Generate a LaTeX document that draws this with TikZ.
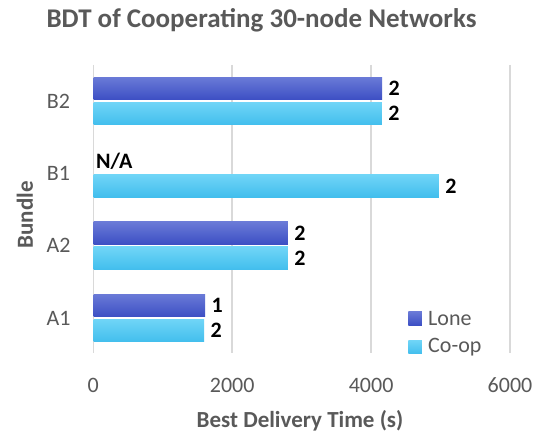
\documentclass[tikz,border=0pt]{standalone}
\usepackage{fontspec}
\setmainfont{Carlito}
\definecolor{txtgray}{HTML}{595959}
\definecolor{gridgray}{HTML}{D9D9D9}
\definecolor{lonetop}{RGB}{106,122,215}
\definecolor{lonebot}{RGB}{60,79,196}
\definecolor{cooptop}{RGB}{112,213,247}
\definecolor{coopbot}{RGB}{66,190,237}
\pgfdeclarelayer{shadowlayer}
\pgfsetlayers{shadowlayer,main}
\tikzset{
  bar/.style={draw=none, inner sep=0pt, minimum height=22.5pt, anchor=west},
  lonebar/.style={bar, top color=lonetop, bottom color=lonebot},
  coopbar/.style={bar, top color=cooptop, bottom color=coopbot},
  val/.style={font=\fontsize{22}{24}\selectfont\bfseries, text=black, anchor=west, inner sep=0pt},
  tick/.style={font=\fontsize{22}{25}\selectfont, text=txtgray, inner sep=0pt},
  axtitle/.style={font=\fontsize{23}{26}\selectfont\bfseries, text=txtgray, inner sep=0pt},
  grid/.style={draw=gridgray, line width=1.5pt},
  swatch/.style={inner sep=0pt, minimum width=13.5pt, minimum height=13.5pt}
}
\begin{document}
\begin{tikzpicture}[x=1pt, y=1pt]
  \fill[white] (0,0) rectangle (539,437);
  \useasboundingbox (0,0) rectangle (539,437);

  % vertical gridlines at 0, 2000, 4000, 6000
  \foreach \gx/\lab in {93.3/0, 232.2/2000, 371.1/4000, 510/6000} {
    \coordinate (gtop\lab) at (\gx,372);
    \coordinate (gbot\lab) at (\gx,84);
    \draw[grid] (gtop\lab) -- (gbot\lab);
    \node[tick] (tk\lab) at (\gx,52) {\lab};
  }

  % bars: Lone above, Co-op below, for each bundle
  \node[lonebar, minimum width=288.6pt] (b2l) at (93.3,348.5) {};
  \node[coopbar, minimum width=288.4pt] (b2c) at (93.3,323.5) {};
  \node[coopbar, minimum width=345.4pt] (b1c) at (93.3,251.2) {};
  \node[lonebar, minimum width=194.4pt] (a2l) at (93.3,203.8) {};
  \node[coopbar, minimum width=194.4pt] (a2c) at (93.3,178.8) {};
  \node[lonebar, minimum width=111.7pt] (a1l) at (93.3,131.5) {};
  \node[coopbar, minimum width=110.7pt] (a1c) at (93.3,106.5) {};

  % soft drop shadows under the bars
  \begin{pgfonlayer}{shadowlayer}
    \foreach \b in {b2l,b2c,b1c,a2l,a2c,a1l,a1c} {
      \foreach \k in {1,...,5} {
        \fill[black, fill opacity=0.06]
          ([xshift=\k*0.45pt, yshift=-\k*0.75pt]\b.north west) rectangle
          ([xshift=\k*0.45pt, yshift=-\k*0.75pt]\b.south east);
      }
    }
  \end{pgfonlayer}

  % value labels
  \node[val] (vb2l) at ([xshift=6pt]b2l.east) {2};
  \node[val] (vb2c) at ([xshift=6pt]b2c.east) {2};
  \node[val] (vb1l) at (96,276) {N/A};
  \node[val] (vb1c) at ([xshift=6pt]b1c.east) {2};
  \node[val] (va2l) at ([xshift=6pt]a2l.east) {2};
  \node[val] (va2c) at ([xshift=6pt]a2c.east) {2};
  \node[val] (va1l) at ([xshift=6pt]a1l.east) {1};
  \node[val] (va1c) at ([xshift=6pt]a1c.east) {2};

  % category labels
  \node[tick] (cb2) at (58.5,336) {B2};
  \node[tick] (cb1) at (58.5,263.7) {B1};
  \node[tick] (ca2) at (58.5,191.3) {A2};
  \node[tick] (ca1) at (58.5,119) {A1};

  % titles
  \node[font=\fontsize{27}{30}\selectfont\bfseries, text=txtgray, inner sep=0pt] (title) at (261.5,417) {BDT of Cooperating 30-node Networks};
  \node[axtitle] (xtitle) at (300,16) {Best Delivery Time (s)};
  \node[axtitle, rotate=90] (ytitle) at (25,222) {Bundle};

  % legend
  \node[swatch, top color=lonetop, bottom color=lonebot] (sw1) at (415,118.5) {};
  \node[tick, anchor=west] (lg1) at (428,118.5) {Lone};
  \node[swatch, top color=cooptop, bottom color=coopbot] (sw2) at (415,90) {};
  \node[tick, anchor=west] (lg2) at (428,90) {Co-op};
\end{tikzpicture}
\end{document}
